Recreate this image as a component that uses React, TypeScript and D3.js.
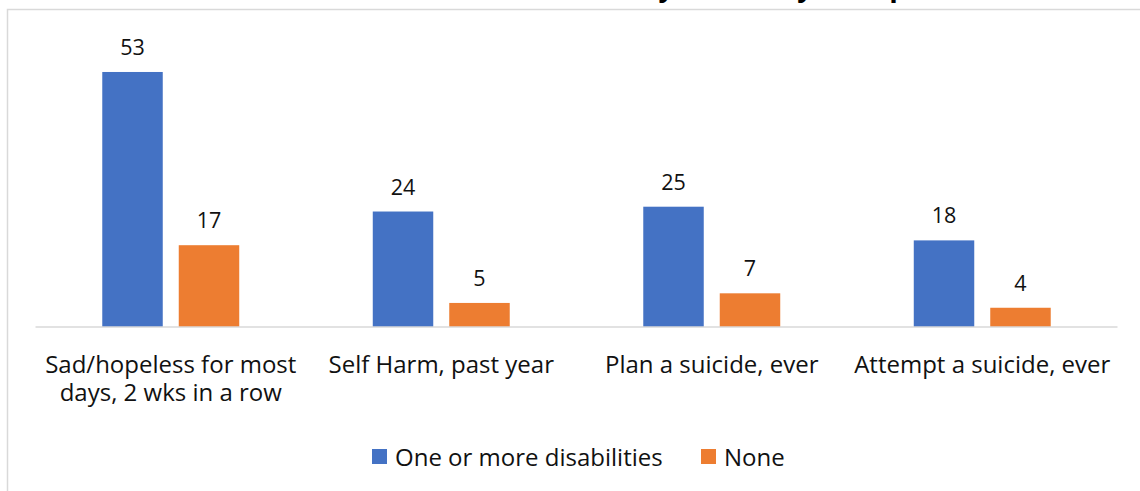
import React from "react";
import * as d3 from "d3";

const categories = [
  ["Sad/hopeless for most", "days, 2 wks in a row"],
  ["Self Harm, past year"],
  ["Plan a suicide, ever"],
  ["Attempt a suicide, ever"],
];
const seriesNames = ["One or more disabilities", "None"];
const disabilities = [53, 24, 25, 18];
const none = [17, 5, 7, 4];
const colors = ["#4472C4", "#ED7D31"];
const title = "Mental Health Indicators (%) by Disability Group";

export default function App() {
  const W = 1140, H = 491;
  const left = 35.5, right = 1117.5, top = 38.3, bottom = 327;
  const x0 = d3.scaleBand<number>().domain(d3.range(categories.length)).range([left, right]).paddingInner(0).paddingOuter(0);
  const y = d3.scaleLinear().domain([0, 60]).range([bottom, top]);
  const bw = x0.bandwidth();
  const barW = bw * 0.2236;
  const gap = 16;
  const series = [disabilities, none];
  const font = "'Open Sans', sans-serif";

  return (
    <svg width={W} height={H} style={{ position: "absolute", left: 0, top: 0, background: "#fff" }} fontFamily={font}>
      <rect x={0} y={0} width={W} height={H} fill="#fff" />
      <text x={570} y={-4} textAnchor="middle" fontSize={28} fontWeight="bold" fill="#000">{title}</text>
      <rect x={7.5} y={9.5} width={1200} height={600} fill="none" stroke="#d9d9d9" strokeWidth={1.5} />
      {series.map((vals, s) =>
        vals.map((v, i) => {
          const cx = x0(i)! + bw / 2;
          const bx = s === 0 ? cx - gap / 2 - barW : cx + gap / 2;
          return (
            <g key={`${s}-${i}`}>
              <rect x={bx} y={y(v)} width={barW} height={y(0) - y(v)} fill={colors[s]} />
              <text x={bx + barW / 2} y={y(v) - 17} textAnchor="middle" fontSize={21.5} fill="#111">{v}</text>
            </g>
          );
        })
      )}
      <line x1={left} x2={right} y1={bottom} y2={bottom} stroke="#d9d9d9" strokeWidth={1.5} />
      {categories.map((lines, i) => (
        <text key={i} textAnchor="middle" fontSize={24} fill="#111">
          {lines.map((l, j) => (
            <tspan key={j} x={x0(i)! + bw / 2} y={373 + j * 28}>{l}</tspan>
          ))}
        </text>
      ))}
      <g>
        <rect x={372} y={449} width={15} height={15} fill={colors[0]} />
        <text x={395} y={466} fontSize={24} fill="#111">{seriesNames[0]}</text>
        <rect x={701} y={449} width={15} height={15} fill={colors[1]} />
        <text x={724} y={466} fontSize={24} fill="#111">{seriesNames[1]}</text>
      </g>
    </svg>
  );
}
